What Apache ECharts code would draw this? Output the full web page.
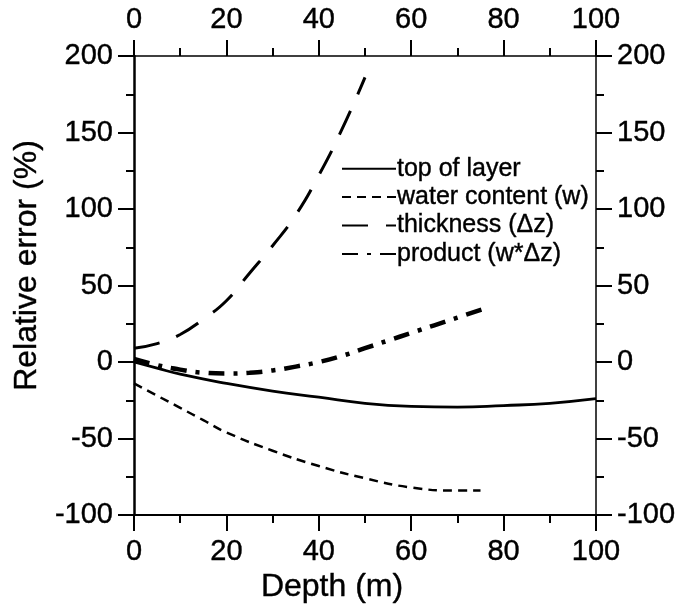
<!DOCTYPE html>
<html>
<head>
<meta charset="utf-8">
<script src="https://cdn.jsdelivr.net/npm/echarts@6/dist/echarts.min.js"></script>
<style>
  html, body { margin: 0; padding: 0; background: #fff; }
  #chart { width: 680px; height: 611px; }
</style>
</head>
<body>
<div id="chart"></div>
<script>
// Depth (m) sample positions and relative error (%) for each quantity
const topDepth = [0, 5, 10, 20, 30, 40, 50, 60, 70, 80, 90, 100];
const topError = [0, -4, -8, -14, -19, -23, -27, -29, -29.5, -28.5, -27, -24];

const waterDepth = [0, 5, 10, 15, 20, 30, 40, 50, 60, 70, 75];
const waterError = [-14, -22, -30, -38, -46, -58, -68, -76, -82, -84, -84];

const thickDepth = [0, 5, 10, 15, 20, 25, 30, 35, 40, 45, 50];
const thickError = [9, 12, 18, 28, 40, 58, 76, 96, 122, 152, 186];

const prodDepth = [0, 5, 10, 15, 20, 25, 30, 35, 40, 45, 50, 55, 60, 65, 70, 76];
const prodError = [2, -2, -5, -7, -7.5, -7, -5.5, -3, 0, 4, 9, 14, 19, 24, 29, 35];

const seriesNames = ['top of layer', 'water content (w)', 'thickness (\u0394z)', 'product (w*\u0394z)'];
const depthTicks = [0, 20, 40, 60, 80, 100];
const errorTicks = [-100, -50, 0, 50, 100, 150, 200];

const pairs = (xs, ys) => xs.map((x, i) => [x, ys[i]]);

const FONT = 'Liberation Sans, Arial, sans-serif';
const ink = { color: '#000', fontFamily: FONT, textBorderColor: '#000', textBorderWidth: 0.4 };
const labelStyle = Object.assign({ fontSize: 29 }, ink);
const nameStyle = Object.assign({ fontSize: 32 }, ink);

function xAxisCfg(pos, withName) {
  return {
    type: 'value', position: pos, min: depthTicks[0], max: depthTicks[depthTicks.length - 1], interval: 20,
    name: withName ? 'Depth (m)' : '', nameLocation: 'middle', nameGap: 56,
    nameTextStyle: Object.assign({ padding: [0, 66, 0, 0] }, nameStyle),
    axisLine: { show: true, onZero: false, lineStyle: { color: '#000', width: pos === 'top' ? 1.5 : 2 } },
    axisTick: { show: true, inside: false, length: 16, lineStyle: { color: '#000', width: 2 } },
    minorTick: { show: true, splitNumber: 2, length: 8, lineStyle: { color: '#000', width: 2 } },
    axisLabel: Object.assign({ margin: 22 }, labelStyle),
    splitLine: { show: false }
  };
}

function yAxisCfg(pos, withName) {
  return {
    type: 'value', position: pos, min: errorTicks[0], max: errorTicks[errorTicks.length - 1], interval: 50,
    name: withName ? 'Relative error (%)' : '', nameLocation: 'middle', nameGap: 84,
    nameTextStyle: Object.assign({ padding: [0, 0, 0, 40] }, nameStyle),
    axisLine: { show: true, onZero: false, lineStyle: { color: '#000', width: pos === 'right' ? 1.5 : 2.5 } },
    axisTick: { show: true, inside: false, length: 16, lineStyle: { color: '#000', width: 2 } },
    minorTick: { show: true, splitNumber: 2, length: 8, lineStyle: { color: '#000', width: 2 } },
    axisLabel: Object.assign({ margin: 21 }, labelStyle),
    splitLine: { show: false }
  };
}

const chart = echarts.init(document.getElementById('chart'), null, { renderer: 'canvas' });

chart.setOption({
  backgroundColor: '#fff',
  animation: false,
  grid: { left: 134, right: 84, top: 56, bottom: 96, containLabel: false },
  xAxis: [xAxisCfg('bottom', true), xAxisCfg('top', false)],
  yAxis: [yAxisCfg('left', true), yAxisCfg('right', false)],
  legend: {
    orient: 'vertical', left: 336, top: 151,
    itemWidth: 54, itemHeight: 14, itemGap: 3,
    itemStyle: { opacity: 0 },
    textStyle: Object.assign({ fontSize: 25, padding: [0, 0, 0, -4] }, ink),
    data: seriesNames
  },
  series: [
    {
      name: seriesNames[0], type: 'line', smooth: true, symbol: 'none',
      data: pairs(topDepth, topError),
      lineStyle: { color: '#000', width: 2.8, type: 'solid' },
      itemStyle: { color: '#000' }
    },
    {
      name: seriesNames[1], type: 'line', smooth: true, symbol: 'none',
      data: pairs(waterDepth, waterError),
      lineStyle: { color: '#000', width: 2.5, type: [9, 6] },
      itemStyle: { color: '#000' }
    },
    {
      name: seriesNames[2], type: 'line', smooth: true, symbol: 'none',
      data: pairs(thickDepth, thickError),
      lineStyle: { color: '#000', width: 3, type: [26, 18] },
      itemStyle: { color: '#000' }
    },
    {
      name: seriesNames[3], type: 'line', smooth: true, symbol: 'none',
      data: pairs(prodDepth, prodError),
      lineStyle: { color: '#000', width: 4.5, type: [16, 9, 4, 9] },
      itemStyle: { color: '#000' }
    }
  ]
});
</script>
</body>
</html>
